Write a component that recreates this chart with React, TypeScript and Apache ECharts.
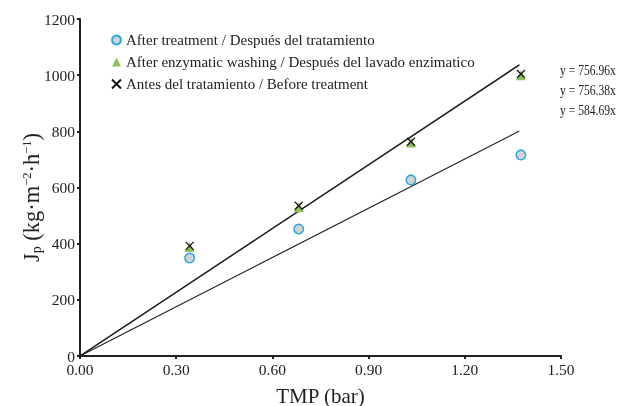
import React, { useEffect, useRef } from "react";
import * as echarts from "echarts";

const tmp = [0.342, 0.682, 1.032, 1.375];
const afterTreatment = [349, 452, 627, 716];
const afterEnzymatic = [388, 530, 760, 1000];
const beforeTreatment = [392, 535, 763, 1004];
const slopes = [756.96, 756.38, 584.69];
const lineEndX = 1.37;
const equations = ["y = 756.96x", "y = 756.38x", "y = 584.69x"];
const legendNames = [
  "After treatment / Después del tratamiento",
  "After enzymatic washing / Después del lavado enzimatico",
  "Antes del tratamiento / Before treatment",
];

const FONT = "'Liberation Serif', 'DejaVu Serif', serif";

export default function App() {
  const ref = useRef<HTMLDivElement>(null);
  useEffect(() => {
    const chart = echarts.init(ref.current!, undefined, { renderer: "svg" });
    const lineSeries = slopes.map((s, i) => ({
      type: "line",
      name: "fit" + i,
      data: [
        [0, 0],
        [lineEndX, s * lineEndX],
      ],
      symbol: "none",
      lineStyle: { color: "#222", width: 1.2 },
      silent: true,
      z: 1,
    }));
    chart.setOption({
      animation: false,
      textStyle: { fontFamily: FONT },
      grid: { left: 80, right: 68, top: 19, bottom: 50, outerBoundsMode: "none", containLabel: false },
      legend: {
        orient: "vertical",
        left: 106,
        top: 27,
        itemWidth: 9,
        itemHeight: 9,
        itemGap: 6,
        textStyle: { fontFamily: FONT, fontSize: 15, lineHeight: 16, color: "#222" },
        data: legendNames,
      },
      xAxis: {
        type: "value",
        min: 0,
        max: 1.5,
        interval: 0.3,
        name: "TMP (bar)",
        nameLocation: "middle",
        nameGap: 29,
        nameMoveOverlap: false,
        nameTextStyle: { fontFamily: FONT, fontSize: 21, color: "#222" },
        splitLine: { show: false },
        axisLine: { lineStyle: { color: "#222", width: 2 } },
        axisTick: { length: 3, lineStyle: { color: "#222", width: 2 } },
        axisLabel: {
          fontFamily: FONT,
          fontSize: 15.5,
          color: "#222",
          margin: 5,
          formatter: (v: number) => v.toFixed(2),
        },
      },
      yAxis: {
        type: "value",
        min: 0,
        max: 1200,
        interval: 200,
        name: "{a|J}{s|p}{a| (kg·m}{u|−2}{a|·h}{u|−1}{a|)}",
        nameLocation: "middle",
        nameRotate: 90,
        nameGap: 37,
        nameMoveOverlap: false,
        nameTextStyle: {
          padding: [0, 20, 0, 0],
          rich: {
            a: { fontFamily: FONT, fontSize: 22.5, color: "#222" },
            s: { fontFamily: FONT, fontSize: 14, color: "#222", verticalAlign: "bottom", padding: [9, 0, 0, 0] },
            u: { fontFamily: FONT, fontSize: 12.5, color: "#222", verticalAlign: "top", padding: [0, 0, 9, 0] },
          },
        },
        splitLine: { show: false },
        axisLine: { show: true, lineStyle: { color: "#222", width: 2 } },
        axisTick: { show: true, length: 3, lineStyle: { color: "#222", width: 2 } },
        axisLabel: {
          fontFamily: FONT,
          fontSize: 15.5,
          color: "#222",
          margin: 5,
          formatter: (v: number) => String(v),
        },
      },
      series: [
        ...lineSeries,
        {
          type: "scatter",
          name: legendNames[0],
          data: tmp.map((x, i) => [x, afterTreatment[i]]),
          symbol: "circle",
          symbolSize: 9.5,
          itemStyle: { color: "#d3d3d3", borderColor: "#2aa8e0", borderWidth: 1.5, opacity: 1 },
          z: 3,
        },
        {
          type: "scatter",
          name: legendNames[1],
          data: tmp.map((x, i) => [x, afterEnzymatic[i]]),
          symbol: "triangle",
          symbolSize: 10,
          itemStyle: { color: "#8fbf5a", opacity: 1 },
          z: 3,
        },
        {
          type: "scatter",
          name: legendNames[2],
          data: tmp.map((x, i) => [x, beforeTreatment[i]]),
          symbol: "path://M0,0L10,10M10,0L0,10",
          symbolSize: 8,
          itemStyle: { color: "rgba(0,0,0,0)", borderColor: "#111", borderWidth: 1.2, opacity: 1 },
          z: 4,
        },
      ],
      graphic: equations.map((t, i) => ({
        type: "text",
        x: 560,
        y: 63 + i * 20,
        scaleX: 0.8,
        style: { text: t, fontFamily: FONT, fontSize: 14.5, fill: "#222" },
      })),
    });
    return () => chart.dispose();
  }, []);
  return (
    <div
      ref={ref}
      style={{ position: "fixed", left: 0, top: 0, width: 629, height: 406, overflow: "hidden" }}
    />
  );
}
